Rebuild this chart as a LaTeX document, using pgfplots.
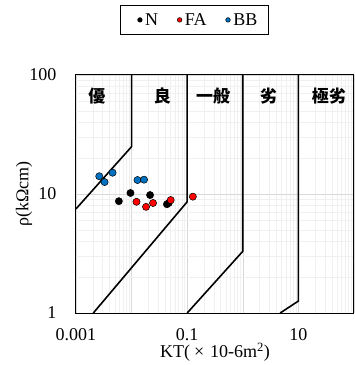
\documentclass[border=0pt]{standalone}
\usepackage{pgfplots}
\pgfplotsset{compat=1.18}
\usepackage{fontspec}
\setmainfont{Liberation Serif}
\newfontfamily\cjk{Noto Sans CJK JP}
\begin{document}
\begin{tikzpicture}
\begin{axis}[
  scale only axis, width=278pt, height=238pt,
  xmode=log, ymode=log,
  xmin=0.001, xmax=100, ymin=1, ymax=100,
  xtick={0.001,0.01,0.1,1,10,100},
  xticklabels={0.001,,0.1,,10,},
  ytick={1,10,100}, yticklabels={1,10,100},
  minor xtick={0.002,0.003,0.004,0.005,0.006,0.007,0.008,0.009,
    0.02,0.03,0.04,0.05,0.06,0.07,0.08,0.09,
    0.2,0.3,0.4,0.5,0.6,0.7,0.8,0.9,
    2,3,4,5,6,7,8,9,20,30,40,50,60,70,80,90},
  minor ytick={2,3,4,5,6,7,8,9,20,30,40,50,60,70,80,90},
  grid=both,
  major grid style={black!15, line width=0.5pt},
  minor grid style={black!6, line width=0.4pt},
  major tick length=0pt, minor tick length=0pt,
  axis line style={black, line width=1pt},
  /pgf/number format/assume math mode=true,
  tick label style={font=\fontsize{18}{20}\selectfont},
  yticklabel style={xshift=-16pt},
  xticklabel style={yshift=-14pt, inner ysep=1pt},
  xlabel={KT(\kern4pt×\kern6pt10-6m\textsuperscript{2})},
  xlabel style={at={(axis description cs:0.5,0)}, anchor=north, yshift=-29pt, inner ysep=1pt, font=\fontsize{18}{20}\selectfont},
  ylabel={ρ(kΩcm)},
  ylabel style={at={(axis description cs:-0.145,0.5)}, anchor=south, rotate=0, font=\fontsize{18}{20}\selectfont},
  legend columns=3,
  legend style={at={(0.426,1)}, anchor=south, yshift=40pt, draw=black, line width=0.8pt,
    font=\fontsize{18}{20}\selectfont, inner xsep=3pt, inner ysep=6pt},
  legend image code/.code={\path (-16pt,0pt) (0pt,0pt); \draw[#1, mark size=2.3pt, line width=0.5pt] plot coordinates {(0pt,0pt)};},
]
% boundary lines
\addplot[black, line width=1.6pt, forget plot] coordinates {(0.001,7.5) (0.01,25) (0.01,100)};
\addplot[black, line width=1.6pt, forget plot] coordinates {(0.00205,1) (0.1,8.6) (0.1,100)};
\addplot[black, line width=1.6pt, forget plot] coordinates {(0.1,1) (1,3.3) (1,100)};
\addplot[black, line width=1.6pt, forget plot] coordinates {(4.7,1) (10,1.26) (10,100)};
% data
\addplot[only marks, mark=*, mark size=3.6pt, mark options={fill=black, draw=black, line width=0.5pt}]
  coordinates {(0.00099,9.6) (0.0059,8.7) (0.00955,10.2) (0.0215,9.8) (0.0432,8.2) (0.0465,8.4)};
\addlegendentry{\kern1pt N\kern3pt}
\addplot[only marks, mark=*, mark size=3.6pt, mark options={fill=red, draw=black, line width=0.5pt}]
  coordinates {(0.01225,8.6) (0.0182,7.8) (0.0243,8.4) (0.0505,8.9) (0.1265,9.5)};
\addlegendentry{\kern1pt FA\kern3pt}
\addplot[only marks, mark=*, mark size=3.6pt, mark options={fill={rgb,255:red,0;green,112;blue,192}, draw=black, line width=0.5pt}]
  coordinates {(0.00262,14.1) (0.00327,12.6) (0.00455,15.1) (0.01277,13.1) (0.01675,13.2)};
\addlegendentry{\kern1pt BB\kern6pt}
% zone labels
\node[font=\cjk\bfseries\fontsize{17}{19}\selectfont] at (rel axis cs:0.0755,0.912) {優};
\node[font=\cjk\bfseries\fontsize{17}{19}\selectfont] at (rel axis cs:0.311,0.912) {良};
\node[font=\cjk\bfseries\fontsize{17}{19}\selectfont] at (rel axis cs:0.493,0.912) {一般};
\node[font=\cjk\bfseries\fontsize{17}{19}\selectfont] at (rel axis cs:0.692,0.912) {劣};
\node[font=\cjk\bfseries\fontsize{17}{19}\selectfont] at (rel axis cs:0.910,0.912) {極劣};
\end{axis}
\pgfresetboundingbox
\path (-76pt,-52pt) rectangle (279pt,313pt);
\end{tikzpicture}
\end{document}
